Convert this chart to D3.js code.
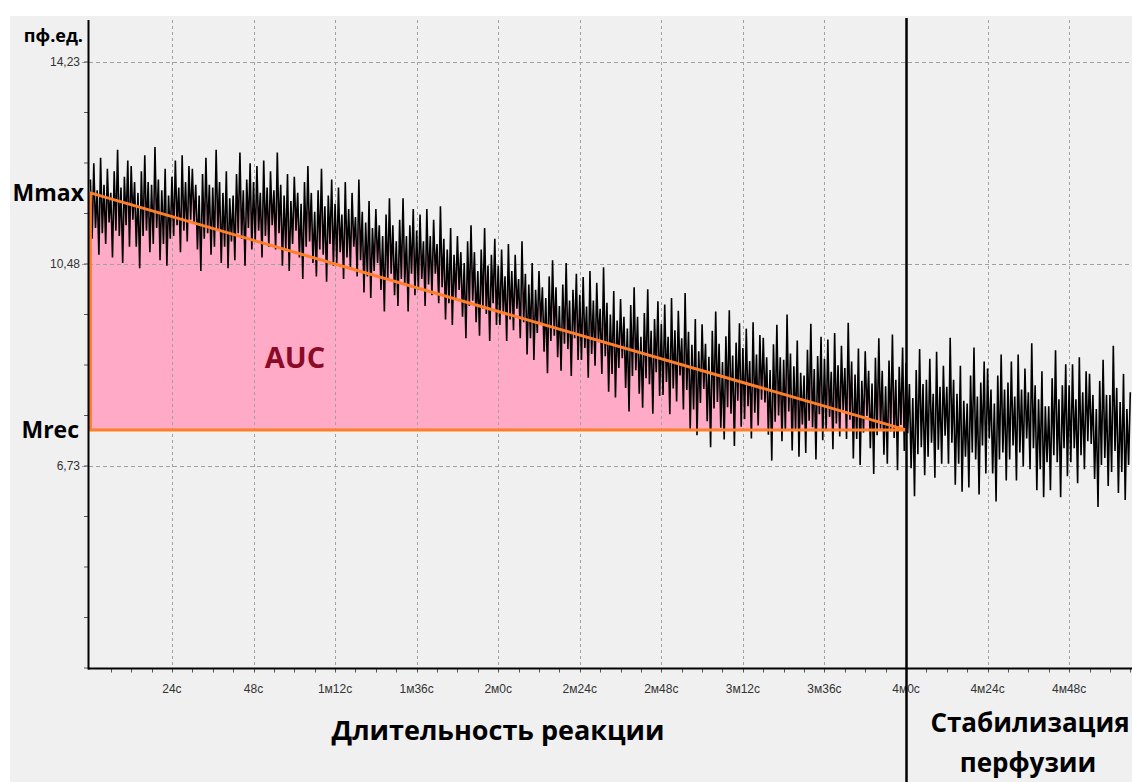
<!DOCTYPE html>
<html lang="ru">
<meta charset="utf-8">
<title>AUC</title>
<script src="https://cdnjs.cloudflare.com/ajax/libs/d3/7.8.5/d3.min.js"></script>
<style>
  body { margin: 0; background: #fff; }
  svg { display: block; }
  .tick-label { font-family: "Liberation Sans", Arial, sans-serif; font-size: 12px; fill: #333; }
  .big { font-family: "Open Sans", "Noto Sans", sans-serif; font-weight: bold; fill: #000; }
</style>
<svg width="1132" height="782"></svg>
<script>
// perfusion signal, one reading every 0.5 s (пф.ед.)
var step = 0.5;
var signal = [
  12.05,10.95,12.35,11.15,11.85,10.65,12.45,11.05,11.95,10.85,12.25,11.25,
  11.8,10.6,12.2,11.1,12.6,11.0,11.9,10.5,12.1,11.2,12.4,10.8,
  12.3,11.3,12.0,10.8,11.8,10.4,12.2,11.0,12.5,11.1,12.0,10.7,
  11.95,10.85,12.65,11.15,12.05,10.55,11.85,10.85,12.25,10.45,11.75,10.95,
  12.1,11.0,12.4,11.2,11.9,10.7,12.5,11.1,12.0,10.9,12.3,11.3,
  12.25,11.25,11.95,10.75,11.75,10.35,12.15,10.95,12.45,11.05,11.95,10.65,
  11.9,10.8,12.6,11.1,12.0,10.5,11.8,10.8,12.2,10.4,11.7,10.9,
  11.75,10.55,12.15,11.05,12.55,10.95,11.85,10.45,12.05,11.15,12.35,10.75,
  12.0,10.9,12.3,11.1,11.8,10.6,12.4,11.0,11.9,10.8,12.2,11.2,
  11.85,10.75,12.55,11.05,11.95,10.45,11.75,10.75,12.15,10.35,11.65,10.85,
  12.1,11.1,11.8,10.6,11.6,10.2,12.0,10.8,12.3,10.9,11.8,10.5,
  11.45,10.25,11.85,10.75,12.25,10.65,11.55,10.15,11.75,10.85,12.05,10.45,
  11.6,10.5,11.9,10.7,11.4,10.2,12.0,10.6,11.5,10.4,11.8,10.8,
  11.35,10.25,12.05,10.55,11.45,9.95,11.25,10.25,11.65,9.85,11.15,10.35,
  11.5,10.5,11.2,10.0,11.0,9.6,11.4,10.2,11.7,10.3,11.2,9.9,
  10.9,9.7,11.3,10.2,11.7,10.1,11.0,9.6,11.2,10.3,11.5,9.9,
  11.1,10.0,11.4,10.2,10.9,9.7,11.5,10.1,11.0,9.9,11.3,10.3,
  10.85,9.75,11.55,10.05,10.95,9.45,10.75,9.75,11.15,9.35,10.65,9.85,
  11.0,10.0,10.7,9.5,10.5,9.1,10.9,9.7,11.2,9.8,10.7,9.4,
  10.35,9.15,10.75,9.65,11.15,9.55,10.45,9.05,10.65,9.75,10.95,9.35,
  10.45,9.35,10.75,9.55,10.25,9.05,10.85,9.45,10.35,9.25,10.65,9.65,
  10.2,9.1,10.9,9.4,10.3,8.8,10.1,9.1,10.5,8.7,10.0,9.2,
  10.35,9.35,10.05,8.85,9.85,8.45,10.25,9.05,10.55,9.15,10.05,8.75,
  9.7,8.5,10.1,9.0,10.5,8.9,9.8,8.4,10.0,9.1,10.3,8.7,
  9.91,8.7,10.24,8.92,9.69,8.37,10.35,8.81,9.8,8.59,10.13,9.03,
  9.65,8.44,10.42,8.77,9.76,8.11,9.54,8.44,9.98,8.0,9.43,8.55,
  9.83,8.73,9.5,8.18,9.28,7.74,9.72,8.4,10.05,8.51,9.5,8.07,
  9.13,7.81,9.57,8.36,10.01,8.25,9.24,7.7,9.46,8.47,9.79,8.03,
  9.37,8.05,9.73,8.29,9.13,7.69,9.85,8.17,9.25,7.93,9.61,8.41,
  9.1,7.78,9.94,8.14,9.22,7.42,8.98,7.78,9.46,7.3,8.86,7.9,
  9.36,8.16,9.0,7.56,8.76,7.08,9.24,7.8,9.6,7.92,9.0,7.44,
  8.66,7.22,9.14,7.82,9.62,7.7,8.78,7.1,9.02,7.94,9.38,7.46,
  8.92,7.6,9.28,7.84,8.68,7.24,9.4,7.72,8.8,7.48,9.16,7.96,
  9.11,7.91,8.75,7.31,8.51,6.83,8.99,7.55,9.35,7.67,8.75,7.19,
  8.7,7.38,9.54,7.74,8.82,7.02,8.58,7.38,9.06,6.9,8.46,7.5,
  8.41,6.97,8.89,7.57,9.37,7.45,8.53,6.85,8.77,7.69,9.13,7.21,
  8.72,7.4,9.08,7.64,8.48,7.04,9.2,7.52,8.6,7.28,8.96,7.76,
  8.55,7.23,9.39,7.59,8.67,6.87,8.43,7.23,8.91,6.75,8.31,7.35,
  8.86,7.66,8.5,7.06,8.26,6.58,8.74,7.3,9.1,7.42,8.5,6.94,
  8.21,6.77,8.69,7.37,9.17,7.25,8.33,6.65,8.57,7.49,8.93,7.01,
  8.64,7.34,8.25,6.69,7.99,6.17,8.51,6.95,8.9,7.08,8.25,6.56,
  8.33,6.9,8.72,7.16,8.07,6.51,8.85,7.03,8.2,6.77,8.59,7.29,
  8.2,6.77,9.11,7.16,8.33,6.38,8.07,6.77,8.59,6.25,7.94,6.9,
  7.89,6.33,8.41,6.98,8.93,6.85,8.02,6.2,8.28,7.11,8.67,6.59,
  8.54,7.24,8.15,6.59,7.89,6.07,8.41,6.85,8.8,6.98,8.15,6.46,
  8.28,6.85,8.67,7.11,8.02,6.46,8.8,6.98,8.15,6.72,8.54,7.24,
  8.1,6.67,9.01,7.06,8.23,6.28,7.97,6.67,8.49,6.15,7.84,6.8,
  7.84,6.28,8.36,6.93,8.88,6.8,7.97,6.15,8.23,7.06,8.62,6.54,
  8.23,6.8,8.62,7.06,7.97,6.41,8.75,6.93,8.1,6.67,8.49,7.19,
  8.44,7.14,8.05,6.49,7.79,5.97,8.31,6.75,8.7,6.88,8.05,6.36,
  8.05,6.62,8.96,7.01,8.18,6.23,7.92,6.62,8.44,6.1,7.79,6.75,
  8.1
];
var yLabels = [14.23, 10.48, 6.73];
var xTicks = [24, 48, 72, 96, 120, 144, 168, 192, 216, 240, 264, 288];
var xLabels = ["24c", "48c", "1м12c", "1м36c", "2м0c", "2м24c", "2м48c", "3м12c", "3м36c", "4м0c", "4м24c", "4м48c"];
var mMax = 11.80, mRec = 7.40, tEnd = 240;

var svg = d3.select("svg");
var x = d3.scaleLinear().domain([0, 306.5]).range([90.4, 1132]);
var y = d3.scaleLinear().domain([14.23, 6.73]).range([62, 466]);
var yTop = 20, yBottom = 668.5;

svg.append("rect").attr("x", 10).attr("y", 16).attr("width", 1122).attr("height", 766).attr("fill", "#f0f0f0");

var pts = signal.map(function(v, i) { return {t: i * step, v: v}; });

// AUC fill between Mrec and the signal
svg.append("path")
  .datum(pts.filter(function(d) { return d.t <= tEnd; }))
  .attr("fill", "#ffaac6")
  .attr("d", d3.area()
    .x(function(d) { return x(d.t); })
    .y0(y(mRec))
    .y1(function(d) { return y(Math.max(d.v, mRec)); }));

// grid
svg.append("g").selectAll("line").data(yLabels).enter().append("line")
  .attr("x1", 82).attr("x2", 1132)
  .attr("y1", function(d) { return y(d) + 0.5; }).attr("y2", function(d) { return y(d) + 0.5; })
  .attr("stroke", "#a0a0a0").attr("stroke-dasharray", "4,3");
svg.append("g").selectAll("line").data(xTicks).enter().append("line")
  .attr("x1", function(d) { return Math.round(x(d)) + 0.5; }).attr("x2", function(d) { return Math.round(x(d)) + 0.5; })
  .attr("y1", yTop).attr("y2", yBottom)
  .attr("stroke", "#a0a0a0").attr("stroke-dasharray", "3,3");

// signal
svg.append("path")
  .datum(pts)
  .attr("fill", "none")
  .attr("stroke", "#000")
  .attr("stroke-width", 1.6)
  .attr("d", d3.line().x(function(d) { return x(d.t); }).y(function(d) { return y(d.v); }));

// triangle
svg.append("path")
  .datum([[0, mMax], [tEnd, mRec], [0, mRec]])
  .attr("fill", "none")
  .attr("stroke", "#ff7f27")
  .attr("stroke-width", 3)
  .attr("stroke-linejoin", "round")
  .attr("d", function(d) { return d3.line().x(function(p) { return x(p[0]); }).y(function(p) { return y(p[1]); })(d) + "Z"; });

// axes
var yMinor = d3.range(0, 13).map(function(i) { return 62 + i * 50.5; });
svg.append("g").selectAll("line").data(yMinor).enter().append("line")
  .attr("x1", 84).attr("x2", 89).attr("y1", function(d) { return d; }).attr("y2", function(d) { return d; })
  .attr("stroke", "#555");
var xMinor = d3.range(6, 307, 6);
svg.append("g").selectAll("line").data(xMinor).enter().append("line")
  .attr("x1", function(d) { return Math.round(x(d)) + 0.5; }).attr("x2", function(d) { return Math.round(x(d)) + 0.5; })
  .attr("y1", yBottom).attr("y2", yBottom + 4)
  .attr("stroke", "#555");

svg.append("line").attr("x1", 88.5).attr("x2", 88.5).attr("y1", yTop).attr("y2", yBottom + 1)
  .attr("stroke", "#000").attr("stroke-width", 2);
svg.append("line").attr("x1", 88).attr("x2", 1132).attr("y1", yBottom).attr("y2", yBottom)
  .attr("stroke", "#000").attr("stroke-width", 2);

svg.append("g").selectAll("text").data(yLabels).enter().append("text")
  .attr("class", "tick-label")
  .attr("x", 80).attr("y", function(d) { return y(d) + 4; })
  .attr("text-anchor", "end")
  .text(function(d) { return d.toFixed(2).replace(".", ","); });

svg.append("g").selectAll("text").data(xTicks).enter().append("text")
  .attr("class", "tick-label")
  .attr("x", function(d) { return x(d); }).attr("y", 693)
  .attr("text-anchor", "middle")
  .text(function(d, i) { return xLabels[i]; });

// reaction end marker
svg.append("line").attr("x1", x(tEnd) + 0.5).attr("x2", x(tEnd) + 0.5).attr("y1", 18).attr("y2", 782)
  .attr("stroke", "#000").attr("stroke-width", 2.5);

// labels
svg.append("text").attr("class", "big").attr("x", 83).attr("y", 42).attr("text-anchor", "end")
  .style("font-size", "18px").text("пф.ед.");
svg.append("text").attr("class", "big").attr("x", 84).attr("y", y(mMax) + 8).attr("text-anchor", "end")
  .style("font-size", "23px").text("Mmax");
svg.append("text").attr("class", "big").attr("x", 79).attr("y", y(mRec) + 8).attr("text-anchor", "end")
  .style("font-size", "23px").text("Mrec");
svg.append("text").attr("class", "big").attr("x", 295).attr("y", 368).attr("text-anchor", "middle")
  .style("font-size", "29px").style("fill", "#8b0a26").text("AUC");
svg.append("text").attr("class", "big").attr("x", 498).attr("y", 740).attr("text-anchor", "middle")
  .style("font-size", "27px").text("Длительность реакции");
svg.append("text").attr("class", "big").attr("x", 1030).attr("y", 732).attr("text-anchor", "middle")
  .style("font-size", "26px").text("Стабилизация");
svg.append("text").attr("class", "big").attr("x", 1028).attr("y", 772).attr("text-anchor", "middle")
  .style("font-size", "26px").text("перфузии");
</script>
</html>
